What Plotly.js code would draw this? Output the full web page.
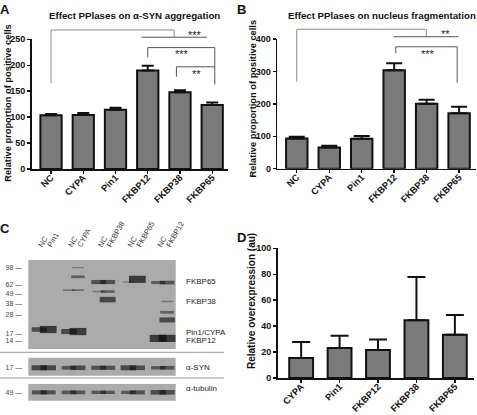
<!DOCTYPE html>
<html><head><meta charset="utf-8">
<script src="https://cdn.plot.ly/plotly-3.0.1.min.js"></script>
<style>html,body{margin:0;padding:0;background:#fff}#chart{width:477px;height:415px}</style>
</head><body><div id="chart"></div>
<script>
// ---------- data ----------
const catsAB = ['NC','CYPA','Pin1','FKBP12','FKBP38','FKBP65'];
const aggMean = [103.5, 104, 114, 190, 148, 123.5];
const aggErr  = [2.5, 4, 4, 9, 4, 4.5];
const fragMean = [93.5, 65, 92, 304, 200, 171];
const fragErr  = [5, 6, 9, 21, 13, 20];
const catsD = ['CYPA','Pin1','FKBP12','FKBP38','FKBP65'];
const overMean = [15.4, 23.1, 21.6, 44.5, 33.4];
const overErr  = [12.4, 9.5, 8.0, 33.4, 15.2];
const yTicksA = [0,50,100,150,200,250];
const yTicksB = [0,100,200,300,400];
const yTicksD = [0,20,40,60,80,100];
// western blot
const blotLanes = ['NC','Pin1','NC','CYPA','NC','FKBP38','NC','FKBP65','NC','FKBP12'];
const mwMarkers = [98,62,49,38,28,17,14];
const bandLane     = [0,1,2,3,3,2,3,3,4,5,4,5,5,6,7,8,9,9,9,9,8,9];
const bandMW       = [19,19,18,18,77,54,54,98,67,67,52,52,42,67,72,66,66,40,30,24.5,15,15];
const bandStrength = [0.75,1.0,0.8,1.0,0.5,0.25,0.3,0.15,0.7,0.7,0.25,0.5,0.85,0.12,1.0,0.55,0.65,0.2,0.5,0.8,1.0,1.0];
const synMW = 17, tubMW = 49;
const synStrength = [0.8,0.8,0.65,0.75,0.7,0.7,0.8,0.75,0.6,0.65];
const tubStrength = [0.7,0.7,0.65,0.65,0.6,0.6,0.6,0.7,0.75,0.75];

// ---------- layout helpers ----------
const W=477, H=415;
const F = 'Liberation Sans, Arial, sans-serif';
const px = x => x/W, py = y => 1 - y/H;
const domA = {x:[px(31.7), px(228)], y:[py(169), py(39.3)]}, rngA = {x:[-0.6,5.49], y:[0,250]};
const domB = {x:[px(277.3), px(476)], y:[py(168.7), py(39)]}, rngB = {x:[-0.6,5.52], y:[0,400]};
const domD = {x:[px(277.7), px(473.7)], y:[py(378), py(248.3)]}, rngD = {x:[-0.61,4.49], y:[0,100]};
const blotX = [px(28.3), px(175.7)];
const blotRange = [0.48, 5.44];
function laneX(i){ return Math.floor(i/2) + 1 + (i % 2 ? 0.15 : -0.15); }

function mapPt(dom, rng, cx, v){
  return [dom.x[0] + (cx - rng.x[0])/(rng.x[1]-rng.x[0])*(dom.x[1]-dom.x[0]),
          dom.y[0] + (v - rng.y[0])/(rng.y[1]-rng.y[0])*(dom.y[1]-dom.y[0])];
}
function bracket(dom, rng, pts, color){
  const d = pts.map((p,i)=>{const q = mapPt(dom,rng,p[0],p[1]); return (i?'L':'M')+q[0].toFixed(5)+','+q[1].toFixed(5);}).join(' ');
  return {type:'path', xref:'paper', yref:'paper', path:d, line:{color:color, width:1}};
}
function star(dom, rng, cx, v, txt){
  const q = mapPt(dom, rng, cx, v);
  return {xref:'paper', yref:'paper', x:q[0], y:q[1], text:txt, showarrow:false, xanchor:'center', yanchor:'middle', yshift:-2.5, font:{family:F, size:11, color:'#222'}};
}

function barTrace(cats, mean, err, xa, ya, w, cap){
  return {type:'bar', x:cats, y:mean, xaxis:xa, yaxis:ya, width:w,
    marker:{color:'#7a7a7a', line:{color:'#111', width:2}},
    error_y:{type:'data', symmetric:false, array:err, arrayminus:err.map(()=>0), color:'#111', thickness:2, width:cap},
    hoverinfo:'skip', showlegend:false};
}
function bandTrace(lanes, mws, strength, xa, ya){
  const cols = strength.map(s=>'rgba(12,12,12,'+(0.35+0.65*s).toFixed(2)+')');
  return {type:'scatter', mode:'markers', x:lanes.map(laneX), y:mws, xaxis:xa, yaxis:ya,
    marker:{symbol:'line-ew', size:strength.map(s=>7.5+4.5*s), color:cols,
      line:{width:strength.map(s=>1.2+6*s*s), color:cols}},
    hoverinfo:'skip', showlegend:false, cliponaxis:false};
}

const tickFontX = {family:F, size:9.3, color:'#111', weight:'bold'};
const tickFontY = {family:F, size:9, color:'#111', weight:'bold'};
function xAx(dom, rng, anchor){
  return {domain:dom, range:rng, anchor:anchor, type:'category', showline:true, linecolor:'#111', linewidth:1.6,
    ticks:'outside', ticklen:3, tickwidth:1.4, tickcolor:'#111', tickangle:-45, tickfont:tickFontX,
    ticklabelstandoff:-5, showgrid:false, zeroline:false, fixedrange:true};
}
function yAx(dom, rng, anchor, tv){
  return {domain:dom, range:rng, anchor:anchor, showline:true, linecolor:'#111', linewidth:1.6,
    ticks:'outside', ticklen:3, tickwidth:1.4, tickcolor:'#111', tickvals:tv, tickfont:tickFontY,
    showgrid:false, zeroline:false, fixedrange:true};
}
function blotY(dom, range, tv){
  return {domain:dom, type:'log', range:range, tickvals:tv, ticktext:tv.map(m=>m+' \u2014'),
    ticks:'', showline:false, showgrid:false, zeroline:false, ticklabelstandoff:5,
    tickfont:{family:F, size:7, color:'#444'}, fixedrange:true};
}
function blotXAx(dom, anchor, labels){
  const a = {domain:dom, range:blotRange, anchor:anchor, showline:false, showgrid:false, zeroline:false,
    ticks:'', fixedrange:true, showticklabels:false};
  if(labels){
    Object.assign(a, {showticklabels:true, side:'top', tickvals:blotLanes.map((_,i)=>laneX(i)), ticktext:blotLanes,
      tickangle:-60, ticklabelstandoff:8, tickfont:{family:F, size:7.5, color:'#333'}});
  }
  return a;
}

const traces = [
  barTrace(catsAB, aggMean, aggErr, 'x', 'y', 0.66, 6),
  barTrace(catsAB, fragMean, fragErr, 'x2', 'y2', 0.66, 8),
  barTrace(catsD, overMean, overErr, 'x4', 'y4', 0.62, 9),
  bandTrace(bandLane, bandMW, bandStrength, 'x3', 'y3'),
  bandTrace(blotLanes.map((_,i)=>i), blotLanes.map(()=>synMW), synStrength, 'x5', 'y5'),
  bandTrace(blotLanes.map((_,i)=>i), blotLanes.map(()=>tubMW), tubStrength, 'x6', 'y6')
];

const y3dom = [py(349), py(260)], y5dom = [py(375.7), py(357.7)], y6dom = [py(400.7), py(384)];
const lg = Math.log10;

const shapes = [
  {type:'rect', xref:'x3 domain', yref:'y3 domain', x0:0, x1:1, y0:0, y1:1, fillcolor:'#ababab', line:{width:0}, layer:'below'},
  {type:'rect', xref:'x5 domain', yref:'y5 domain', x0:0, x1:1, y0:0, y1:1, fillcolor:'#ababab', line:{width:0}, layer:'below'},
  {type:'rect', xref:'x6 domain', yref:'y6 domain', x0:0, x1:1, y0:0, y1:1, fillcolor:'#ababab', line:{width:0}, layer:'below'},
  {type:'line', xref:'paper', yref:'paper', x0:0, x1:px(224), y0:py(352.3), y1:py(352.3), line:{color:'#999', width:1}},
  {type:'line', xref:'paper', yref:'paper', x0:0, x1:px(224), y0:py(378), y1:py(378), line:{color:'#999', width:1}},
  // significance brackets A
  bracket(domA, rngA, [[0,165],[0,268],[3.82,268],[3.82,254]], '#8a8a8a'),
  bracket(domA, rngA, [[2.81,254],[4.84,254]], '#555'),
  bracket(domA, rngA, [[3,215],[3,234],[5.08,234],[5.08,163]], '#555'),
  bracket(domA, rngA, [[3.89,178],[3.89,197],[5.08,197]], '#555'),
  // brackets B
  bracket(domB, rngB, [[0,268],[0,430],[3.99,430],[3.99,407]], '#8a8a8a'),
  bracket(domB, rngB, [[2.98,407],[4.98,407]], '#555'),
  bracket(domB, rngB, [[3.05,356],[3.05,376],[4.94,376],[4.94,265]], '#555')
];

function txt(text, x, y, opts){
  return Object.assign({xref:'paper', yref:'paper', x:px(x), y:py(y), text:text, showarrow:false,
    xanchor:'center', yanchor:'middle', font:{family:F, size:8, color:'#222'}}, opts||{});
}
const bold = (s)=>({family:F, size:s, color:'#111', weight:'bold'});
const annotations = [
  star(domA, rngA, 4.46, 263, '***'), star(domA, rngA, 4.05, 226, '***'), star(domA, rngA, 4.5, 188, '**'),
  star(domB, rngB, 4.57, 422, '**'), star(domB, rngB, 4.03, 360, '***'),
  txt('A', 5, 0, {yanchor:'top', font:bold(13)}), txt('B', 242, 0, {yanchor:'top', font:bold(13)}),
  txt('C', 4.5, 228.5, {font:bold(13)}), txt('D', 242, 237, {font:bold(13)}),
  txt('Effect PPlases on \u03b1-SYN aggregation', 134.5, 16, {font:bold(9.7)}),
  txt('Effect PPlases on nucleus fragmentation', 381.7, 16, {font:bold(9.7)}),
  txt('Relative proportion of positive cells', 8.3, 102.5, {textangle:-90, font:bold(9.3)}),
  txt('Relative proportion of positive cells', 252, 98.5, {textangle:-90, font:bold(9.3)}),
  txt('Relative overexpression (au)', 251, 301, {textangle:-90, font:bold(10)}),
  txt('FKBP65', 184, 281, {xanchor:'left'}),
  txt('FKBP38', 184, 301.7, {xanchor:'left'}),
  txt('Pin1/CYPA', 184, 332.7, {xanchor:'left'}),
  txt('FKBP12', 184, 340, {xanchor:'left'}),
  txt('\u03b1-SYN', 184, 367, {xanchor:'left'}),
  txt('\u03b1-tubulin', 184, 388.3, {xanchor:'left'})
];

const layout = {
  width:W, height:H, margin:{l:0,r:0,t:0,b:0}, paper_bgcolor:'#fff', plot_bgcolor:'rgba(0,0,0,0)',
  showlegend:false, bargap:0.3,
  xaxis: xAx(domA.x, rngA.x, 'y'), yaxis: yAx(domA.y, rngA.y, 'x', yTicksA),
  xaxis2: xAx(domB.x, rngB.x, 'y2'), yaxis2: yAx(domB.y, rngB.y, 'x2', yTicksB),
  xaxis4: xAx(domD.x, rngD.x, 'y4'), yaxis4: yAx(domD.y, rngD.y, 'x4', yTicksD),
  xaxis3: blotXAx(blotX, 'y3', true), yaxis3: Object.assign(blotY(y3dom, [1.054, 2.080], mwMarkers), {anchor:'x3'}),
  xaxis5: blotXAx(blotX, 'y5', false), yaxis5: Object.assign(blotY(y5dom, [lg(synMW)-0.044, lg(synMW)+0.056], [synMW]), {anchor:'x5'}),
  xaxis6: blotXAx(blotX, 'y6', false), yaxis6: Object.assign(blotY(y6dom, [lg(tubMW)-0.05, lg(tubMW)+0.05], [tubMW]), {anchor:'x6'}),
  shapes: shapes, annotations: annotations
};
Plotly.newPlot('chart', traces, layout, {staticPlot:true, displayModeBar:false});
</script></body></html>
